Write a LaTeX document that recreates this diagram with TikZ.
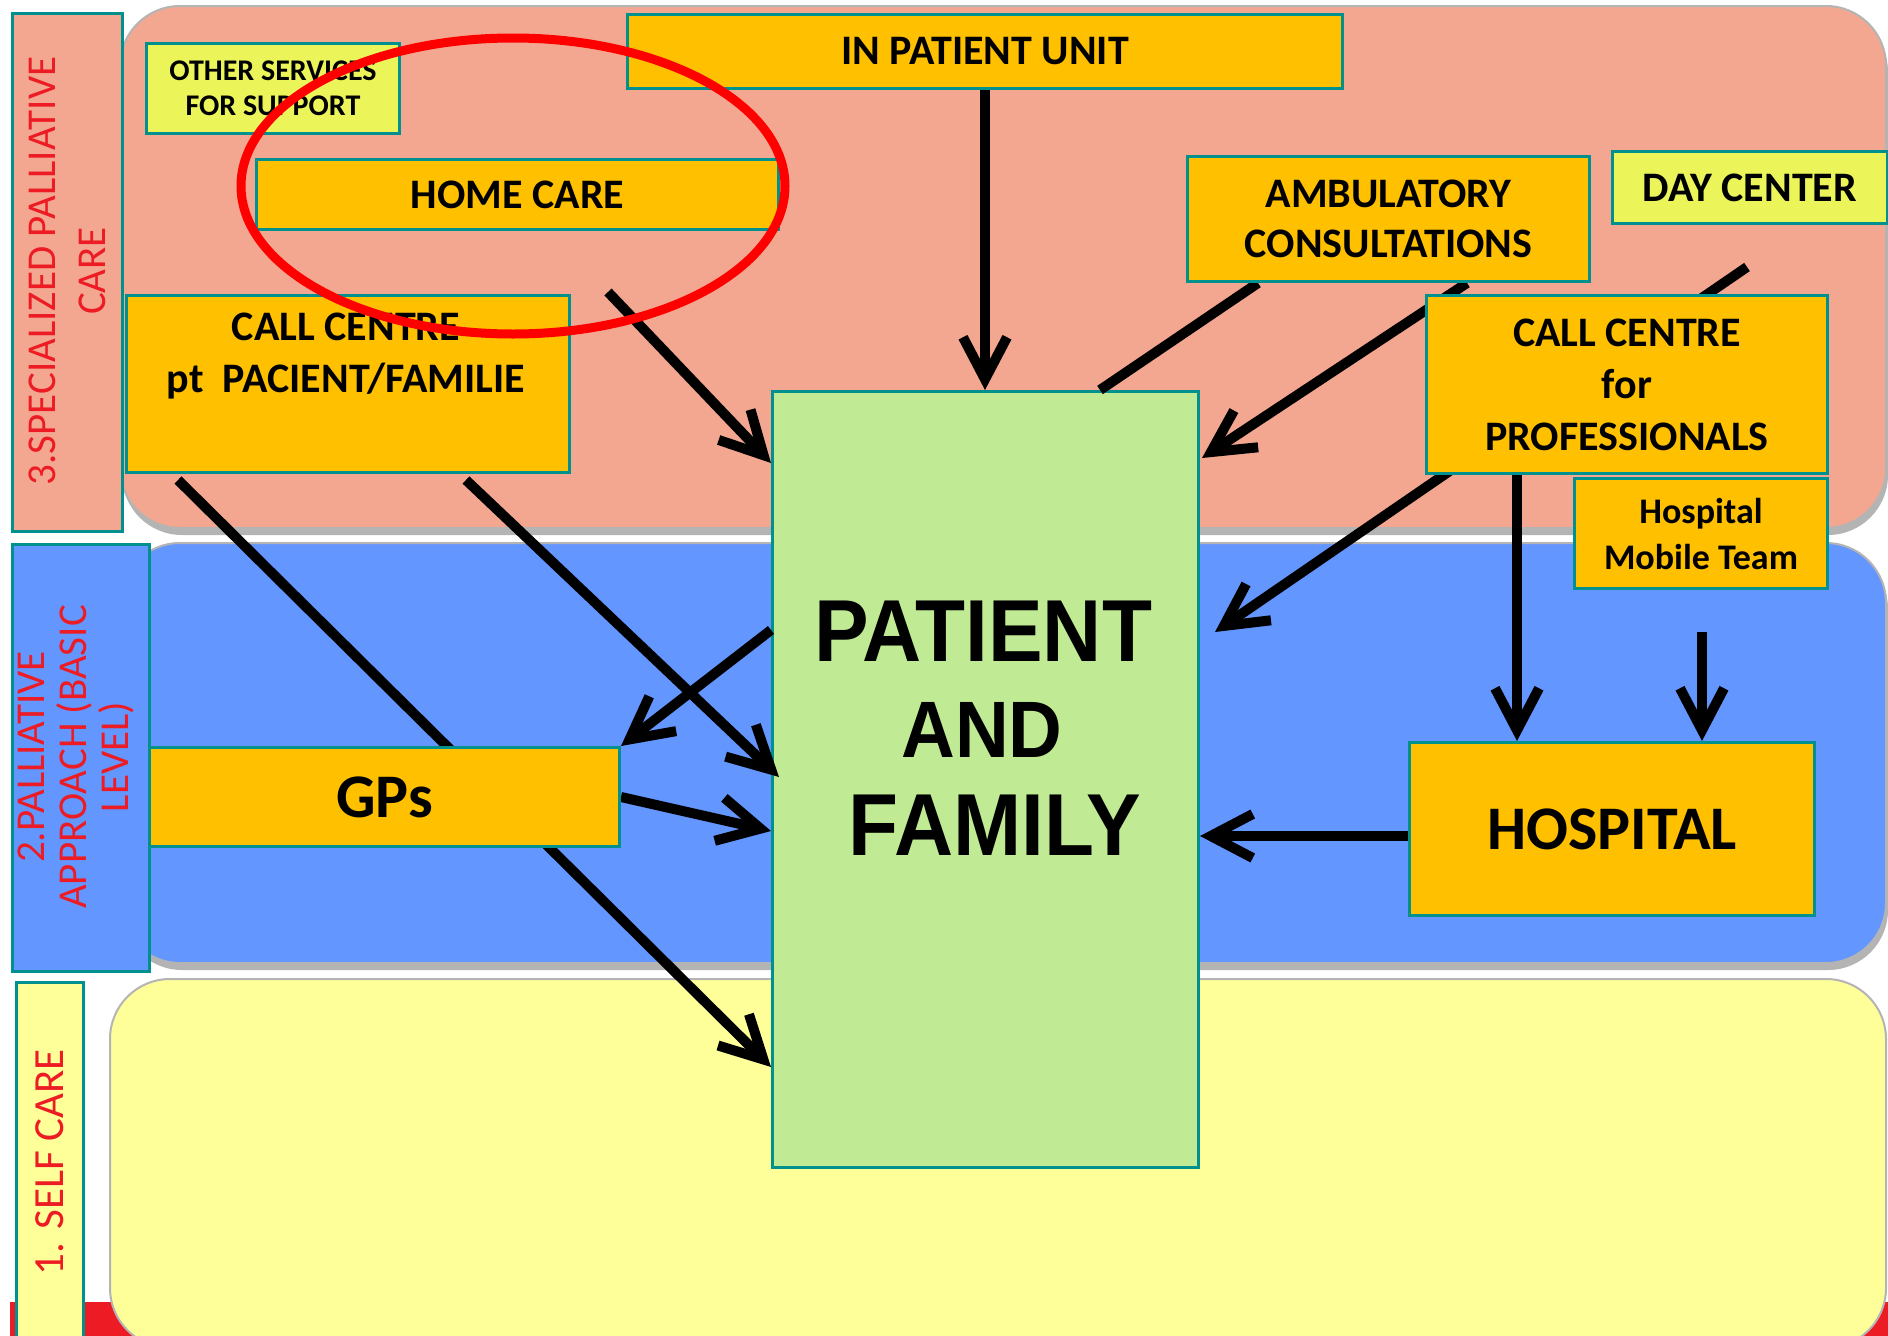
\documentclass[tikz,border=0pt]{standalone}
\usepackage{fontspec}
\usetikzlibrary{arrows.meta,calc}
\newfontfamily\carl{Carlito}
\newfontfamily\pafont[FakeStretch=0.93]{Liberation Sans}
\definecolor{salmonband}{HTML}{F3A790}
\definecolor{blueband}{HTML}{6396FE}
\definecolor{yellowband}{HTML}{FFFF99}
\definecolor{orangebox}{HTML}{FFC000}
\definecolor{limebox}{HTML}{EBF55A}
\definecolor{greenbox}{HTML}{C0EA93}
\definecolor{tealline}{HTML}{00918F}
\definecolor{labred}{HTML}{ED1C24}
\definecolor{shadowgray}{HTML}{B4B4B4}
\pgfdeclarelayer{bg}
\pgfdeclarelayer{pat}
\pgfdeclarelayer{arr}
\pgfdeclarelayer{top}
\pgfsetlayers{bg,pat,arr,main,top}
\begin{document}
\begin{tikzpicture}[x=1pt,y=-1pt,
  band/.style={rounded corners=60pt, draw=shadowgray, line width=2pt},
  bandshadow/.style={rounded corners=60pt, fill=shadowgray},
  box/.style={draw=tealline, line width=3pt, fill=orangebox, inner sep=0pt, align=center, anchor=north west,
    font=\carl\bfseries\fontsize{42}{51}\selectfont},
  labbox/.style={draw=tealline, line width=3pt, inner sep=0pt, anchor=north west},
  vlab/.style={rotate=90, text=labred, align=center, inner sep=0pt},
  pf/.style={font=\pafont\bfseries, anchor=base, inner sep=0pt},
  ln/.style={line width=10pt},
  arr/.style={line width=10pt, -{Straight Barb[length=42pt,width=44pt,sharp]}}
]
\useasboundingbox (0,0) rectangle (1888,1336);
\clip (0,0) rectangle (1888,1336);
\begin{pgfonlayer}{bg}
\fill[white] (0,0) rectangle (1888,1336);
\fill[labred] (10,1302) rectangle (1888,1345);
% bands
\fill[bandshadow] (122,12) rectangle (1888,535);
\filldraw[band, fill=salmonband] (120,6) rectangle (1886,528);
\fill[bandshadow] (122,549) rectangle (1888,970);
\filldraw[band, fill=blueband] (120,543) rectangle (1886,963);
\filldraw[band, fill=yellowband] (110,979) rectangle (1886,1348);
\end{pgfonlayer}

% level label boxes
\node[labbox, fill=salmonband, minimum width=110pt, minimum height=518pt] (lab3) at (11,12) {};
\node[labbox, fill=blueband, minimum width=137pt, minimum height=427pt] (lab2) at (11,543) {};
\node[labbox, fill=yellowband, minimum width=67pt, minimum height=370pt] (lab1) at (15,981) {};
\node[vlab, font=\carl\fontsize{41}{50}\selectfont] (lab3t) at (67,271) {3.SPECIALIZED PALLIATIVE\\CARE};
\node[vlab, font=\carl\fontsize{41}{42}\selectfont] (lab2t) at (76,757) {2.PALLIATIVE\\APPROACH (BASIC\\LEVEL)};
\node[vlab, font=\carl\fontsize{43}{50}\selectfont] (lab1t) at (50,1162) {1. SELF CARE};

% patient box
\begin{pgfonlayer}{pat}
\node[box, fill=greenbox, minimum width=426pt, minimum height=776pt] (patient) at (771,390) {};
\end{pgfonlayer}
\node[pf, font=\pafont\bfseries\fontsize{88}{96}\selectfont] (pt1) at (983,661) {PATIENT};
\node[pf, font=\pafont\bfseries\fontsize{80}{96}\selectfont] (pt2) at (982,757) {AND};
\node[pf, font=\pafont\bfseries\fontsize{88}{96}\selectfont] (pt3) at (995,855) {FAMILY};

% service boxes
\node[box, fill=limebox, minimum width=253pt, minimum height=90pt, font=\carl\bfseries\fontsize{30}{35}\selectfont] (other) at (145,42) {OTHER SERVICES\\FOR SUPPORT};
\node[box, minimum width=522pt, minimum height=70pt] (home) at (255,158) {HOME CARE};
\node[box, minimum width=715pt, minimum height=74pt] (ipu) at (626,13) {IN PATIENT UNIT};
\node[box, minimum width=402pt, minimum height=125pt, font=\carl\bfseries\fontsize{42}{50}\selectfont] (amb) at (1186,155) {AMBULATORY\\CONSULTATIONS};
\node[box, fill=limebox, minimum width=275pt, minimum height=72pt] (day) at (1611,150) {DAY CENTER};
\node[box, minimum width=443pt, minimum height=177pt] (ccpt) at (125,294) {};
\node[align=center, inner sep=0pt, font=\carl\bfseries\fontsize{42}{52}\selectfont] (ccptt) at (346,356) {CALL CENTRE\\pt~ PACIENT/FAMILIE};
\node[box, minimum width=401pt, minimum height=178pt, font=\carl\bfseries\fontsize{42}{52}\selectfont] (ccp) at (1425,294) {CALL CENTRE\\for\\PROFESSIONALS};
\node[box, minimum width=253pt, minimum height=110pt, font=\carl\bfseries\fontsize{36}{46}\selectfont] (hmt) at (1573,477) {Hospital\\Mobile Team};
\node[box, minimum width=470pt, minimum height=99pt, font=\carl\bfseries\fontsize{62}{70}\selectfont] (gps) at (148,746) {GPs};
\node[box, minimum width=405pt, minimum height=173pt, font=\carl\bfseries\fontsize{62}{70}\selectfont] (hosp) at (1408,741) {HOSPITAL};

% connectors
\coordinate (hcs) at (608,292);
\coordinate (dcs) at (1747,267);
\coordinate (hmts) at (1702,632);
\coordinate (ccpb) at ($(ccp.south west)+(92,0)$);
\coordinate (hw) at ($(hosp.west)+(0,7)$);
\begin{pgfonlayer}{arr}
\draw[arr] (ipu.south) -- (ipu.south |- patient.north);
\draw[arr] (hcs) -- ($(patient.north west)+(0,73)$);
\draw[ln] ($(amb.south west)+(72,0)$) -- ($(patient.north west)+(329,0)$);
\draw[arr] ($(amb.south west)+(281,0)$) -- ($(patient.north east)+(2,68)$);
\draw[arr] (dcs) -- ($(patient.north east)+(15,242)$);
\draw[arr] (ccpb) -- (ccpb |- hosp.north);
\draw[arr] (hmts) -- (hmts |- hosp.north);
\draw[arr] (hw) -- (hw -| patient.east);
\draw[arr] ($(ccpt.south west)+(53,6)$) -- ($(patient.north west)+(0,677)$);
\draw[arr] ($(ccpt.south west)+(341,6)$) -- ($(patient.north west)+(8,387)$);
\draw[arr] ($(patient.north west)+(0,240)$) -- (gps.north east);
\draw[arr] (gps.east) -- ($(patient.north west)+(0,441)$);
\end{pgfonlayer}

\begin{pgfonlayer}{top}
\draw[red, line width=9pt] (513,186) ellipse [x radius=272, y radius=148];
\end{pgfonlayer}
\end{tikzpicture}
\end{document}
